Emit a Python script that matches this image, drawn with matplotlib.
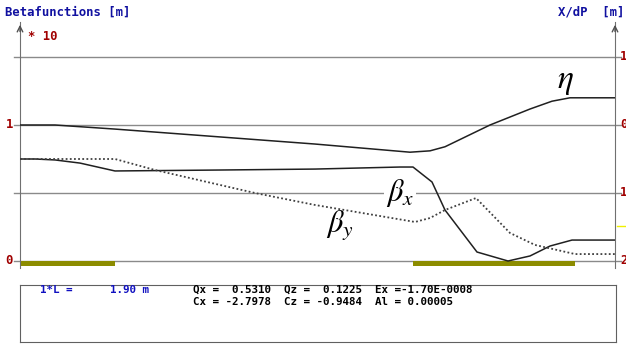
import matplotlib.pyplot as plt
import numpy as np

plt.rcParams['mathtext.fontset'] = 'stix'

# lattice functions, s in m
bx_s = [0, 0.3, 0.7, 1.2, 1.9, 4.0, 5.9, 7.6, 7.86, 8.24, 8.5, 9.14, 9.76, 10.2, 10.6, 11.04, 11.9]
bx = [0.75, 0.75, 0.743, 0.72, 0.662, 0.669, 0.676, 0.691, 0.691, 0.581, 0.375, 0.066, 0.0, 0.037, 0.11, 0.154, 0.154]
by_s = [0, 1.9, 2.7, 4.7, 5.9, 7.9, 8.2, 8.5, 9.12, 9.8, 10.3, 11.1, 11.9]
by = [0.75, 0.75, 0.669, 0.5, 0.412, 0.287, 0.316, 0.375, 0.463, 0.206, 0.118, 0.051, 0.051]
eta_s = [0, 0.7, 1.9, 5.9, 7.8, 8.2, 8.5, 9.4, 10.2, 10.64, 11.0, 11.9]
eta = [0, 0, -0.06, -0.28, -0.40, -0.38, -0.32, 0, 0.235, 0.35, 0.40, 0.40]
magnets = [(0, 1.9), (7.86, 11.1)]
grid_b = [0, 0.5, 1.0, 1.5]
left_labels = {1.0: '1', 0.0: '0'}
right_labels = ['1', '0', '1', '2']
right_ticks = [1, 0, -1, -2]

fig = plt.figure(figsize=(6.26, 3.44), dpi=100)
W, H = 626, 344
ax = fig.add_axes([20 / W, 1 - 268 / H, 595 / W, 246 / H])
ax.set_xlim(0, 11.9)
ax.set_ylim((261 - 268) / 136, (261 - 22) / 136)
ax.set_xticks([])
ax.set_yticks([])
for sp in ['top', 'bottom']:
    ax.spines[sp].set_visible(False)
ax.spines['left'].set_color('#707070')
ax.spines['right'].set_color('#707070')

for g in grid_b:
    ax.axhline(g, xmin=-0.01, xmax=1.01, color='#8a8a8a', lw=1, clip_on=False, zorder=1)

for a, b in magnets:
    ax.fill_between([a, b], -0.036, 0, color='#8c8c00', lw=0, zorder=2)

ax.plot(bx_s, bx, color='#202020', lw=1.1, zorder=3)
ax.plot(by_s, by, color='#404040', lw=1.3, ls=(0, (1, 1.3)), zorder=3)

ax2 = ax.twinx()
ax2.set_ylim((125 - 268) / 68, (125 - 22) / 68)
ax2.set_yticks([])
for sp in ax2.spines.values():
    sp.set_visible(False)
ax2.plot(eta_s, eta, color='#202020', lw=1.1, zorder=3)

# axis arrows
for x in [0, 1]:
    ax.annotate('', xy=(x, 1.0), xytext=(x, 0.95), xycoords='axes fraction',
                arrowprops=dict(arrowstyle='->', color='#505050', lw=1))

mono = dict(family='DejaVu Sans Mono', fontweight='bold')
fs = 8.8
fig.text(5 / W, 1 - 12 / H, 'Betafunctions [m]', color='#1010a0', fontsize=fs, va='center', **mono)
fig.text(28 / W, 1 - 37 / H, '* 10', color='#a00000', fontsize=fs, va='center', **mono)
fig.text(624 / W, 1 - 12 / H, 'X/dP  [m]', color='#1010a0', fontsize=fs, va='center', ha='right', **mono)
for v, t in left_labels.items():
    ax.text(-0.012, v, t, transform=ax.get_yaxis_transform(), color='#a00000', fontsize=fs,
            ha='right', va='center', **mono)
for v, t in zip(right_ticks, right_labels):
    fig.text(620 / W, ax2.transData.transform((0, v))[1] / H, t, color='#a00000', fontsize=fs,
             va='center', ha='left', **mono)
fig.add_artist(plt.Line2D([617 / W, 1], [1 - 226 / H] * 2, color='#f0f000', lw=1))

ax2.text(10.9, 0.65, r'$\eta$', fontsize=24, ha='center', va='center')
ax.text(7.6, 0.5, r'$\beta_x$', fontsize=22, ha='center', va='center',
        bbox=dict(fc='white', ec='none', pad=1))
ax.text(6.4, 0.26, r'$\beta_y$', fontsize=22, ha='center', va='center')

# info box
box = fig.add_axes([20 / W, 1 - 342 / H, 596 / W, 57 / H])
box.set_xticks([])
box.set_yticks([])
for sp in box.spines.values():
    sp.set_color('#606060')
fs2 = 7.8
fig.text(40 / W, 1 - 290 / H, '1*L =', color='#1010c0', fontsize=fs2, va='center', **mono)
fig.text(110 / W, 1 - 290 / H, '1.90 m', color='#1010c0', fontsize=fs2, va='center', **mono)
fig.text(193 / W, 1 - 290 / H, 'Qx =  0.5310  Qz =  0.1225  Ex =-1.70E-0008', color='black',
         fontsize=fs2, va='center', **mono)
fig.text(193 / W, 1 - 302 / H, 'Cx = -2.7978  Cz = -0.9484  Al = 0.00005', color='black',
         fontsize=fs2, va='center', **mono)

fig.savefig('out.png', dpi=100)
